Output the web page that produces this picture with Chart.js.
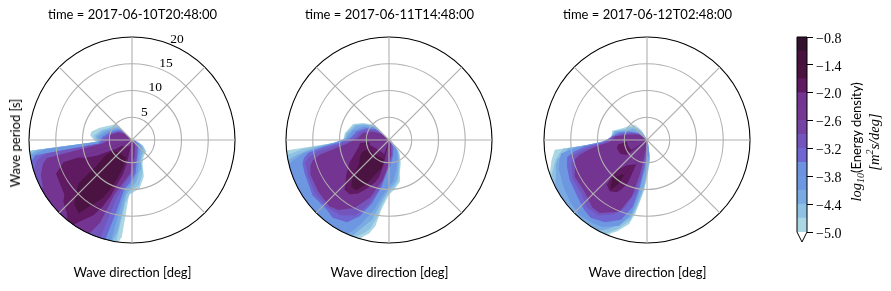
<!DOCTYPE html>
<html>
<head>
<meta charset="utf-8">
<script src="https://cdn.jsdelivr.net/npm/chart.js@4"></script>
<style>
    html, body { margin: 0; padding: 0; background: #fff; }
    body { width: 891px; height: 291px; position: relative; overflow: hidden; }
    canvas { position: absolute; top: 0; }
    .rot { position: absolute; transform: translate(-50%, -50%) rotate(-90deg); white-space: nowrap; color: #000; }
    .sans { font-family: Lato, sans-serif; font-size: 13px; }
    .serif { font-family: "Liberation Serif", serif; font-style: italic; font-size: 14.5px; }
    sub, sup { font-size: 10px; line-height: 0; }
</style>
</head>
<body>
<canvas id="polar1" width="257" height="291" style="left:4px"></canvas>
<canvas id="polar2" width="257" height="291" style="left:261px"></canvas>
<canvas id="polar3" width="257" height="291" style="left:519px"></canvas>
<canvas id="cbar" width="70" height="291" style="left:780px"></canvas>
<div class="rot sans" style="left:15px;top:143px">Wave period [s]</div>
<div class="rot sans" style="left:856px;top:142px"><span class="serif">log<sub>10</sub></span>(Energy density)</div>
<div class="rot serif" style="left:874px;top:142px">[m<sup>2</sup>s/deg]</div>
<script>
// Eixos
const periodTicks = [5, 10, 15, 20];
const periodMin = 0.75;
const periodMax = 20;
const cbarTicks = [-0.8, -1.4, -2.0, -2.6, -3.2, -3.8, -4.4, -5.0];
const levels = [-5.0, -4.7, -4.4, -4.1, -3.8, -3.5, -3.2, -2.9, -2.6, -2.3, -2.0, -1.7, -1.4, -1.1, -0.8];
const levelColors = ['#abd6e3', '#8fc2e2', '#79aae1', '#6d97e1', '#6d92e0', '#6f66d2', '#7455bc',
    '#7544a2', '#743792', '#743492', '#5f1a62', '#4b1342', '#471240', '#34112f'];

const titles = ['time = 2017-06-10T20:48:00', 'time = 2017-06-11T14:48:00', 'time = 2017-06-12T02:48:00'];
const xLabel = 'Wave direction [deg]';

// Contornos: [direção, período]. Valores acima de 20 ficam fora do círculo
// Painel 1
const p1_a = [[90,1],[99,1.5],[108,2],[117,3.1],[129,4.2],[144,4.5],[156,5.6],[162,7.9],[171,9.9],[180,10.7],[183,10.9],[186,19],[189,21],[192,24],[210,28],[240,28],[261,24],[264,21],[267,7.6],[276,8.6],[282,8.5],[291,7.2],[303,5.7],[315,5],[318,1],[330,0.9]];
const p1_b = [[90,0.9],[108,1.9],[117,2.9],[129,3.9],[144,4.2],[156,5.1],[162,7.2],[171,9.3],[180,10.1],[186,12.5],[189,21],[192,24],[210,28],[240,28],[258,24],[261,21],[264,19.5],[267,7.4],[276,8],[288,6.8],[300,5.4],[312,4.7],[315,3],[318,0.9]];
const p1_c = [[99,1.3],[117,2.6],[129,3.5],[144,3.9],[156,4.7],[162,6.4],[168,7],[174,8.6],[180,9.6],[186,11],[189,18],[192,21],[198,24],[210,28],[240,28],[252,24],[261,21],[264,18.5],[267,7.2],[276,7.5],[288,6.4],[300,5],[312,4.3],[315,2.5],[318,0.9]];
const p1_d = [[99,1.2],[117,2.2],[129,2.9],[144,3.3],[156,3.9],[165,5.6],[171,7],[180,8.9],[186,10],[189,12.2],[192,21],[195,24],[240,28],[252,24],[258,21],[261,20],[264,17],[267,7],[276,7],[288,5.8],[300,4.6],[312,3.9],[315,2],[318,0.9]];
const p1_e = [[108,1.4],[129,2.2],[144,2.7],[156,3.4],[168,5],[174,7],[183,8.8],[189,10],[192,14],[195,20],[198,21],[204,24],[240,28],[252,24],[255,21],[258,20],[261,19],[264,7],[276,6.3],[288,5.2],[300,4.2],[312,3.4],[318,0.9]];
const p1_f = [[117,1.4],[135,1.9],[150,2.6],[162,3.7],[174,5.6],[180,7],[189,9],[195,12],[198,20],[201,21],[204,24],[228,28],[240,24],[249,21],[255,19.5],[258,19],[261,17],[264,6.5],[276,5.7],[288,4.6],[300,3.8],[312,3],[318,0.8]];
const p1_g = [[135,1.4],[156,2.2],[171,3.9],[180,5.4],[183,7],[192,9],[198,11.5],[201,17.2],[204,19.5],[207,21],[225,28],[237,21],[243,19.5],[249,19],[255,18],[258,17],[261,8.5],[264,6],[270,5.2],[285,4.9],[300,3.6],[312,2.5],[315,1]];
const p1_h = [[192,5],[195,7.5],[198,9],[201,12],[204,14.5],[207,16.5],[213,19],[216,21],[222,19],[228,18],[231,17],[246,16.3],[252,14.2],[255,0.75]];
const p1_i = [[192,0.75],[198,2],[228,2.6],[240,4.1],[243,5],[246,8],[249,10],[252,11.4],[255,0.75]];
const p1_j = [[195,0.75],[198,6.2],[201,8.5],[204,11],[207,13],[216,17.7],[222,16.9],[228,14.6],[231,13.6],[234,9],[240,6.4],[243,0.75]];
const p1_k = [[195,0.75],[198,4.3],[216,4],[234,4.5],[240,5],[243,0.75]];
const p1_l = [[192,0.75],[198,2],[228,2.6],[240,3],[243,0.75]];

// Painel 2
const p2_a = [[99,1],[117,1.3],[129,1.7],[141,3.9],[153,5.6],[162,7.3],[165,8.8],[174,10.1],[180,11],[186,13.6],[189,17],[192,18.6],[195,19.4],[198,21],[210,28],[240,28],[261,22],[264,21],[267,11.2],[270,9.3],[279,9.1],[294,8.1],[303,6.6],[315,4.8],[318,1.5],[330,0.9]];
const p2_b = [[99,0.9],[117,1.2],[129,1.6],[141,3.6],[153,5.2],[162,6.9],[168,8.8],[174,9.7],[180,10.5],[186,12.8],[189,15.5],[192,17.7],[195,18.8],[198,19.5],[201,21],[210,28],[240,28],[258,24],[261,21],[264,17],[267,11],[270,9.2],[279,8.9],[294,7.8],[303,6.3],[315,4.4],[318,1.3],[327,0.9]];
const p2_c = [[108,1],[129,1.5],[141,3.3],[153,4.8],[162,6.4],[168,8.2],[174,9.2],[180,10],[186,12],[192,16],[198,18.4],[201,20],[204,24],[240,28],[252,24],[258,21],[261,18],[264,15],[267,11],[270,9],[279,8.6],[294,7.4],[303,6],[315,4.2],[318,1.2]];
const p2_d = [[108,0.9],[129,1.4],[141,3],[153,4.3],[165,6.2],[174,8.5],[180,9.5],[186,11],[192,14],[198,17],[201,18.6],[204,20],[207,24],[240,28],[252,24],[255,21],[258,19],[261,17],[264,14],[267,11],[273,8.6],[285,7.7],[297,6.2],[309,4.6],[318,1.2]];
const p2_e = [[120,1],[150,2.4],[165,3.7],[177,5.6],[183,6.4],[189,9.6],[195,13],[201,16],[207,18],[216,18.7],[222,18.2],[234,18.4],[249,17.7],[255,17.5],[258,17],[261,16],[264,13],[267,10],[273,8],[285,7],[297,5.6],[309,4],[318,1]];
const p2_f = [[120,0.9],[150,2.1],[168,3.5],[180,5.5],[186,7.5],[192,10.5],[198,13.5],[204,16.2],[213,17.5],[222,17.8],[234,17.8],[246,17.3],[252,17],[255,17],[258,16],[261,14],[264,11],[267,9],[273,7.3],[285,6.4],[297,5],[309,3.4],[318,1]];
const p2_g = [[135,1],[156,1.6],[171,3.6],[183,5.7],[189,8.3],[195,10.4],[198,12],[207,15],[216,16.9],[222,17.4],[234,17.1],[246,16.8],[252,16.2],[255,15.5],[258,14],[261,11],[264,9],[267,8],[273,6.6],[285,5.8],[297,4.1],[309,2.5],[318,1]];
const p2_h = [[189,0.75],[192,5.5],[195,8],[198,9],[204,10.6],[210,12.3],[216,13.3],[222,13.2],[231,11],[240,9.3],[249,7.5],[258,6.5],[264,6.2],[267,0.75]];
const p2_i = [[192,0.75],[195,6.2],[201,7.5],[207,10],[213,12],[219,12],[225,10.3],[231,8],[240,7],[246,6.3],[249,0.75]];
const p2_j = [[192,0.75],[195,4.5],[231,4.6],[246,5],[249,0.75]];
const p2_k = [[189,0.75],[198,3.5],[228,3.5],[255,4.4],[264,4.4],[267,0.75]];

// Painel 3
const p3_a = [[90,0.9],[135,1],[165,1.8],[171,4.5],[177,6.3],[183,10.1],[186,12],[189,14.6],[192,16.8],[198,18.7],[201,19.4],[204,21],[216,28],[240,28],[249,21],[252,19.8],[258,19],[261,18.5],[264,18.1],[267,8],[273,7.4],[285,7.5],[297,5.7],[309,5],[321,4.4],[330,2.9],[342,1]];
const p3_b = [[135,0.9],[165,1.7],[171,4.2],[177,5.9],[183,9.5],[186,11.4],[189,14],[192,16.2],[198,18.2],[204,20],[207,24],[216,28],[240,28],[246,24],[249,20],[252,19.3],[258,18.2],[261,17.4],[264,16.5],[267,8.5],[273,7.2],[285,7.1],[297,5.3],[309,4.6],[321,3.6],[330,2.3],[339,0.9]];
const p3_c = [[150,0.9],[165,1.6],[171,3.8],[177,5.4],[183,8.8],[186,10.7],[189,13.2],[192,15.5],[198,17.4],[204,19],[210,20.5],[216,24],[234,24],[243,20],[249,19],[255,18.4],[258,17.8],[261,16.4],[264,15.5],[267,9.5],[273,7.7],[285,7],[297,4.8],[309,4.2],[321,3],[330,1.8],[336,0.9]];
const p3_d = [[165,1.5],[171,3.4],[177,4.5],[183,6.5],[186,7.4],[189,11.5],[192,15],[198,17.6],[207,19],[213,19.3],[222,19.6],[231,19.2],[240,18.7],[246,18.3],[252,18.1],[258,17.4],[261,17],[264,14],[267,10],[270,8],[285,6.6],[297,4.5],[309,3],[318,1]];
const p3_e = [[171,2],[177,3.5],[183,4.5],[186,6.5],[189,10],[192,13.5],[198,16.4],[207,18],[216,18.7],[222,18.3],[231,17.5],[243,17],[252,16.5],[255,16.2],[258,16],[261,14.5],[264,12.5],[267,9],[273,7.8],[285,6],[297,4],[309,2.7],[318,1]];
const p3_f = [[177,2],[183,3],[186,5],[189,8],[192,10.5],[198,14],[204,16],[213,17.6],[222,17.6],[231,16.6],[243,16.4],[252,15.6],[255,15.2],[258,15],[261,13],[264,11],[267,8.5],[276,7.2],[285,5.3],[300,3.4],[312,2],[318,0.9]];
const p3_g = [[186,2],[189,3.9],[192,7.7],[195,11.6],[201,15.1],[213,17],[219,17],[231,15.9],[243,15.9],[255,14.7],[258,13.5],[261,11.5],[264,9.6],[267,7.7],[276,6.8],[285,4.7],[303,2.6],[315,1]];
const p3_h = [[201,0.75],[204,9.5],[207,11],[210,12],[216,12.6],[222,12],[225,9.5],[228,0.75]];
const p3_i = [[210,0.75],[213,10.5],[216,12.3],[219,11.5],[222,10.5],[225,0.75]];
const p3_j = [[210,0.75],[213,8.6],[216,8.6],[219,9.5],[222,10],[225,0.75]];
const p3_k = [[201,0.75],[204,5.7],[213,6.3],[219,6.8],[225,8.8],[228,0.75]];
const p3_l = [[231,0.75],[234,5.5],[243,6.4],[255,6.6],[261,6.2],[264,4.8],[267,0.75]];
const p3_m = [[231,0.75],[237,4.2],[243,4.3],[255,4.5],[261,4.5],[264,4.4],[267,0.75]];

// Ordem de pintura: [índice da cor, contorno]
const panel1 = [[0,p1_a],[1,p1_b],[2,p1_c],[3,p1_d],[5,p1_e],[6,p1_f],[9,p1_g],[10,p1_h],[9,p1_i],[11,p1_j],[10,p1_k],[9,p1_l]];
const panel2 = [[0,p2_a],[1,p2_b],[2,p2_c],[3,p2_d],[5,p2_e],[6,p2_f],[9,p2_g],[10,p2_h],[11,p2_i],[10,p2_j],[9,p2_k]];
const panel3 = [[0,p3_a],[1,p3_b],[2,p3_c],[3,p3_d],[5,p3_e],[6,p3_f],[9,p3_g],[10,p3_h],[11,p3_i],[10,p3_j],[9,p3_k],[10,p3_l],[9,p3_m]];

// Direções a cada 3 graus
const directions = [];
for (let d = 0; d < 360; d += 3) directions.push(d);

function contourData(pts) {
    const data = directions.map(() => null);
    data[0] = periodMin;
    pts.forEach(p => { data[p[0] / 3] = p[1]; });
    return data;
}

// Recorta o preenchimento no círculo externo
const clipCircle = {
    id: 'clipCircle',
    beforeDatasetsDraw(chart) {
        const r = chart.scales.r;
        chart.ctx.save();
        chart.ctx.beginPath();
        chart.ctx.arc(r.xCenter, r.yCenter, r.drawingArea, 0, Math.PI * 2);
        chart.ctx.clip();
    },
    afterDatasetsDraw(chart) {
        chart.ctx.restore();
    }
};

// Rótulos do raio, fora do eixo vertical
const periodLabels = {
    id: 'periodLabels',
    afterDraw(chart) {
        const r = chart.scales.r;
        const ctx = chart.ctx;
        const a = 24 * Math.PI / 180;
        ctx.save();
        ctx.fillStyle = '#000';
        ctx.font = '13.5px "Liberation Serif", serif';
        ctx.textAlign = 'center';
        ctx.textBaseline = 'middle';
        periodTicks.forEach(t => {
            const dist = r.getDistanceFromCenterForValue(t) + 7.5;
            ctx.fillText(String(t), r.xCenter + Math.sin(a) * dist, r.yCenter - Math.cos(a) * dist);
        });
        ctx.restore();
    }
};

function polar(id, title, layers, extra) {
    new Chart(document.getElementById(id), {
        type: 'radar',
        data: {
            labels: directions,
            datasets: layers.map((l, i) => ({
                data: contourData(l[1]),
                backgroundColor: levelColors[l[0]],
                borderWidth: 0,
                pointRadius: 0,
                tension: 0,
                fill: 'start',
                spanGaps: true,
                order: layers.length - i
            }))
        },
        options: {
            responsive: false,
            animation: false,
            plugins: {
                legend: { display: false },
                tooltip: { enabled: false },
                title: {
                    display: true,
                    text: title,
                    color: '#000',
                    font: { family: 'Lato, sans-serif', size: 13, weight: 'normal', lineHeight: 1.2 },
                    padding: { top: 7, bottom: 14.4 }
                },
                subtitle: {
                    display: true,
                    position: 'bottom',
                    text: xLabel,
                    color: '#000',
                    font: { family: 'Lato, sans-serif', size: 13, weight: 'normal', lineHeight: 1.2 },
                    padding: { top: 22, bottom: 10.4 }
                }
            },
            scales: {
                r: {
                    min: periodMin,
                    max: periodMax,
                    afterBuildTicks(scale) {
                        scale.ticks = [periodMin].concat(periodTicks).map(v => ({ value: v }));
                    },
                    ticks: { display: false },
                    pointLabels: { display: false },
                    angleLines: {
                        color: '#b0b0b0',
                        lineWidth: ctx => (ctx.index % 15 === 0 ? 1.1 : 0)
                    },
                    grid: {
                        circular: true,
                        z: 1,
                        color: ctx => (ctx.tick.value === periodMax ? '#000' : '#b0b0b0'),
                        lineWidth: 1.1
                    }
                }
            }
        },
        plugins: extra ? [clipCircle, periodLabels] : [clipCircle]
    });
}

polar('polar1', titles[0], panel1, true);
polar('polar2', titles[1], panel2, false);
polar('polar3', titles[2], panel3, false);

// Moldura e triângulo da barra de cores
const cbarFrame = {
    id: 'cbarFrame',
    afterDraw(chart) {
        const a = chart.chartArea;
        const ctx = chart.ctx;
        ctx.save();
        ctx.strokeStyle = '#000';
        ctx.lineWidth = 1;
        ctx.beginPath();
        ctx.moveTo(a.left, a.bottom);
        ctx.lineTo(a.left, a.top);
        ctx.lineTo(a.right, a.top);
        ctx.lineTo(a.right, a.bottom);
        ctx.lineTo((a.left + a.right) / 2, a.bottom + 10);
        ctx.closePath();
        ctx.stroke();
        ctx.restore();
    }
};

new Chart(document.getElementById('cbar'), {
    type: 'bar',
    data: {
        labels: ['cbar'],
        datasets: levelColors.map((c, i) => ({
            data: [[levels[i], levels[i + 1]]],
            backgroundColor: c,
            barPercentage: 1,
            categoryPercentage: 1,
            grouped: false
        }))
    },
    options: {
        responsive: false,
        animation: false,
        layout: { padding: { left: 17, top: 37, bottom: 59 } },
        plugins: { legend: { display: false }, tooltip: { enabled: false } },
        scales: {
            x: { display: false },
            y: {
                position: 'right',
                min: -5,
                max: -0.8,
                afterBuildTicks(scale) {
                    scale.ticks = cbarTicks.map(v => ({ value: v }));
                },
                afterFit(scale) { scale.width = 43; },
                border: { display: false },
                grid: { drawOnChartArea: false, tickLength: 6, tickColor: '#000', tickWidth: 1 },
                ticks: {
                    color: '#000',
                    padding: 3,
                    labelOffset: 2,
                    autoSkip: false,
                    font: { family: '"Liberation Serif", serif', size: 14 },
                    callback: v => v.toFixed(1).replace('-', '\u2212')
                }
            }
        }
    },
    plugins: [cbarFrame]
});
</script>
</body>
</html>
